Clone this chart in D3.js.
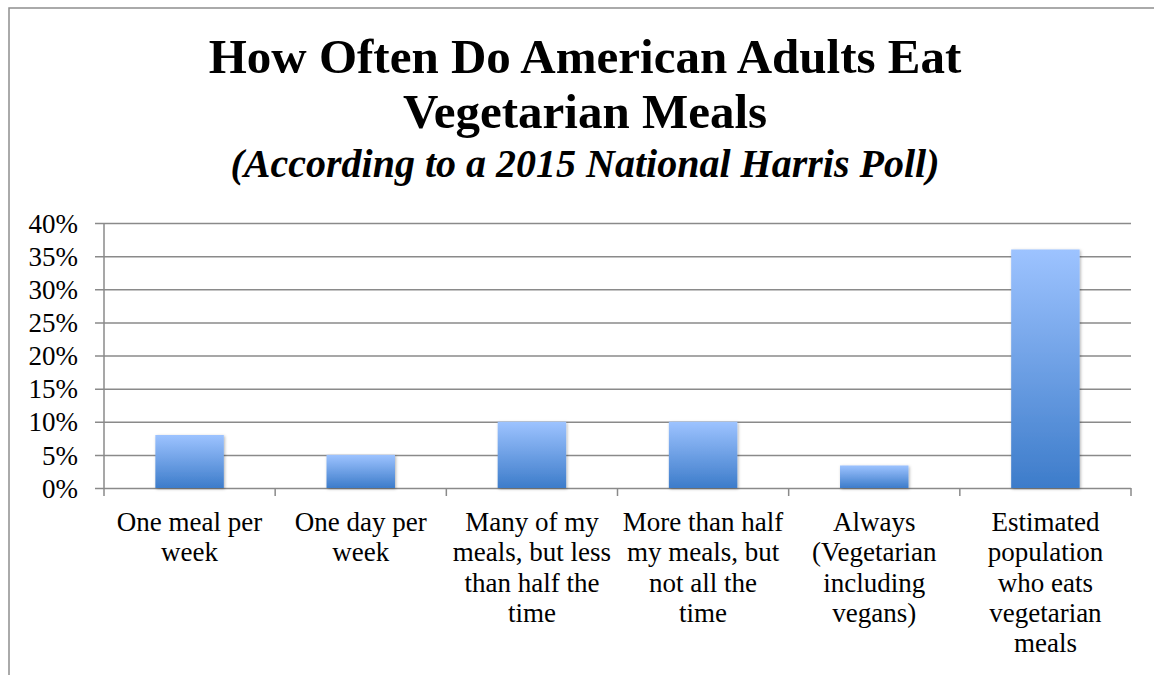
<!DOCTYPE html>
<html>
<head>
<meta charset="utf-8">
<script src="https://cdn.jsdelivr.net/npm/d3@7"></script>
<style>
  html, body { margin: 0; padding: 0; background: #fff; }
  svg { display: block; }
</style>
</head>
<body>
<div id="chart"></div>
<script>
// chart data
const categories = [
  'One meal per week',
  'One day per week',
  'Many of my meals, but less than half the time',
  'More than half my meals, but not all the time',
  'Always (Vegetarian including vegans)',
  'Estimated population who eats vegetarian meals',
];
// wrapped label lines, as in the original chart
const labelLines = [
  ['One meal per', 'week'],
  ['One day per', 'week'],
  ['Many of my', 'meals, but less', 'than half the', 'time'],
  ['More than half', 'my meals, but', 'not all the', 'time'],
  ['Always', '(Vegetarian', 'including', 'vegans)'],
  ['Estimated', 'population', 'who eats', 'vegetarian', 'meals'],
];
const values = [8, 5, 10, 10, 3.4, 36];
const yTicks = [0, 5, 10, 15, 20, 25, 30, 35, 40];
const titleLines = ['How Often Do American Adults Eat', 'Vegetarian Meals'];
const subtitle = '(According to a 2015 National Harris Poll)';

const W = 1154, H = 675;
const margin = { top: 223, right: 23, bottom: 187, left: 104 };
const font = '"Liberation Serif", "Times New Roman", serif';

const svg = d3.select('#chart').append('svg')
  .attr('width', W)
  .attr('height', H);

const defs = svg.append('defs');
const grad = defs.append('linearGradient')
  .attr('id', 'barGrad')
  .attr('x1', 0).attr('y1', 0).attr('x2', 0).attr('y2', 1);
grad.append('stop').attr('offset', '0%').attr('stop-color', '#9dc3ff');
grad.append('stop').attr('offset', '100%').attr('stop-color', '#3d7cca');

const shadow = defs.append('filter').attr('id', 'shadow')
  .attr('x', '-20%').attr('y', '-20%').attr('width', '140%').attr('height', '140%');
shadow.append('feDropShadow')
  .attr('dx', 1).attr('dy', 1).attr('stdDeviation', 1.5)
  .attr('flood-color', '#000').attr('flood-opacity', 0.3);

// outer frame (only left/top edges visible in the original)
svg.append('rect')
  .attr('x', 9).attr('y', 8)
  .attr('width', W + 20).attr('height', H + 20)
  .attr('fill', 'none')
  .attr('stroke', '#8f8f8f')
  .attr('stroke-width', 1.5);

// titles
const cx = 585;
svg.append('text')
  .attr('x', cx).attr('y', 73)
  .attr('text-anchor', 'middle')
  .style('font-family', font).style('font-weight', 'bold').style('font-size', '49px')
  .text(titleLines[0]);
svg.append('text')
  .attr('x', cx).attr('y', 128)
  .attr('text-anchor', 'middle')
  .style('font-family', font).style('font-weight', 'bold').style('font-size', '49px')
  .text(titleLines[1]);
svg.append('text')
  .attr('x', cx).attr('y', 177)
  .attr('text-anchor', 'middle')
  .style('font-family', font).style('font-weight', 'bold').style('font-style', 'italic')
  .style('font-size', '40px')
  .text(subtitle);

const innerW = W - margin.left - margin.right;
const innerH = H - margin.top - margin.bottom;

const x = d3.scaleBand()
  .domain(categories)
  .range([0, innerW])
  .paddingInner(0.6)
  .paddingOuter(0.3);

const y = d3.scaleLinear().domain([0, 40]).range([innerH, 0]);

const g = svg.append('g').attr('transform', `translate(${margin.left},${margin.top})`);

// y axis with gridlines
const yAxis = d3.axisLeft(y)
  .tickValues(yTicks)
  .tickSize(-innerW)
  .tickSizeOuter(0)
  .tickPadding(26)
  .tickFormat((d) => `${d}%`);

const yG = g.append('g').call(yAxis);
yG.select('.domain').remove();
yG.selectAll('.tick line')
  .attr('x1', -9)
  .attr('stroke', '#8a8a8a')
  .attr('stroke-width', 1.5);
yG.selectAll('.tick text')
  .attr('dy', '0.34em')
  .attr('fill', '#000')
  .style('font-family', font)
  .style('font-size', '27px');

// vertical axis line
g.append('line')
  .attr('x1', 0).attr('x2', 0)
  .attr('y1', 0).attr('y2', innerH)
  .attr('stroke', '#8a8a8a').attr('stroke-width', 1.5);

// category tick marks at band boundaries
const bounds = d3.range(categories.length + 1).map((i) => i * innerW / categories.length);
g.selectAll('.cat-tick')
  .data(bounds)
  .enter().append('line')
  .attr('class', 'cat-tick')
  .attr('x1', (d) => d).attr('x2', (d) => d)
  .attr('y1', innerH).attr('y2', innerH + 8)
  .attr('stroke', '#8a8a8a').attr('stroke-width', 1.5);

// bars
g.selectAll('.bar')
  .data(values)
  .enter().append('rect')
  .attr('class', 'bar')
  .attr('x', (d, i) => x(categories[i]))
  .attr('y', (d) => y(d))
  .attr('width', x.bandwidth())
  .attr('height', (d) => innerH - y(d))
  .attr('fill', 'url(#barGrad)')
  .attr('filter', 'url(#shadow)');

// category labels
const labels = g.selectAll('.cat-label')
  .data(labelLines)
  .enter().append('text')
  .attr('class', 'cat-label')
  .attr('text-anchor', 'middle')
  .style('font-family', font)
  .style('font-size', '27px')
  .attr('fill', '#000');

labels.each(function(lines, i) {
  const t = d3.select(this);
  const cxl = x(categories[i]) + x.bandwidth() / 2;
  lines.forEach((ln, j) => {
    t.append('tspan')
      .attr('x', cxl)
      .attr('y', innerH + 43 + j * 30.3)
      .text(ln);
  });
});
</script>
</body>
</html>
